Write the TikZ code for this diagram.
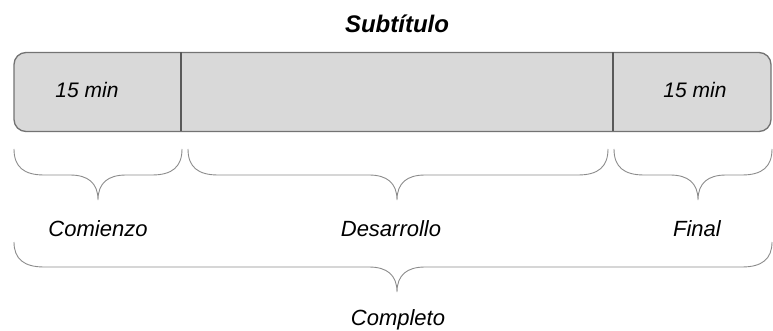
\documentclass[tikz,border=0pt]{standalone}
\usepackage{fontspec}
\setmainfont{Liberation Sans}
\begin{document}
\begin{tikzpicture}[x=1pt,y=-1pt,
  lbl/.style={font=\fontsize{21}{25}\selectfont\itshape, text=black, inner sep=0pt},
  blbl/.style={font=\fontsize{22}{26}\selectfont\itshape, text=black, inner sep=0pt},
  ttl/.style={font=\fontsize{24}{28}\selectfont\bfseries\itshape, text=black, inner sep=0pt},
  barbox/.style={draw=gray!90!black, line width=1.3pt, fill=gray!30, rounded corners=12pt},
  divider/.style={draw=black!65, line width=2.4pt},
  bracepath/.style={draw=black!45, line width=0.9pt}]
\useasboundingbox (0,0) rectangle (773,331);
% bar
\node[barbox, minimum width=757pt, minimum height=79pt, inner sep=0pt] (bar) at (392.5,92) {};
\coordinate (d1t) at (181,52.5);
\coordinate (d1b) at (181,131.5);
\coordinate (d2t) at (613,52.5);
\coordinate (d2b) at (613,131.5);
\draw[divider] (d1t) -- (d1b);
\draw[divider] (d2t) -- (d2b);
% texts
\node[ttl] (title) at (397,24) {Subtítulo};
\node[lbl] (t1) at (87,90) {15 min};
\node[lbl] (t2) at (695,90) {15 min};
\node[blbl] (comienzo) at (98,229) {Comienzo};
\node[blbl] (desarrollo) at (391,229) {Desarrollo};
\node[blbl] (final) at (697,229) {Final};
\node[blbl] (completo) at (398,320) {Completo};
% braces
\draw[bracepath] (14,149) .. controls (14,167) and (24,175) .. (44,175)
  -- (70,175) .. controls (88,175) and (98,183) .. (98,200)
  .. controls (98,183) and (108,175) .. (126,175)
  -- (152,175) .. controls (172,175) and (182,167) .. (182,149);
\draw[bracepath] (188,149) .. controls (188,167) and (198,175) .. (218,175)
  -- (369,175) .. controls (387,175) and (397,183) .. (397,200)
  .. controls (397,183) and (407,175) .. (425,175)
  -- (578,175) .. controls (598,175) and (608,167) .. (608,149);
\draw[bracepath] (614,149) .. controls (614,167) and (624,175) .. (644,175)
  -- (670,175) .. controls (688,175) and (698,183) .. (698,200)
  .. controls (698,183) and (708,175) .. (726,175)
  -- (742,175) .. controls (762,175) and (772,167) .. (772,149);
\draw[bracepath] (14,242) .. controls (14,259) and (24,267) .. (44,267)
  -- (369,267) .. controls (387,267) and (397,275) .. (397,292)
  .. controls (397,275) and (407,267) .. (425,267)
  -- (742,267) .. controls (762,267) and (772,259) .. (772,242);
\end{tikzpicture}
\end{document}
